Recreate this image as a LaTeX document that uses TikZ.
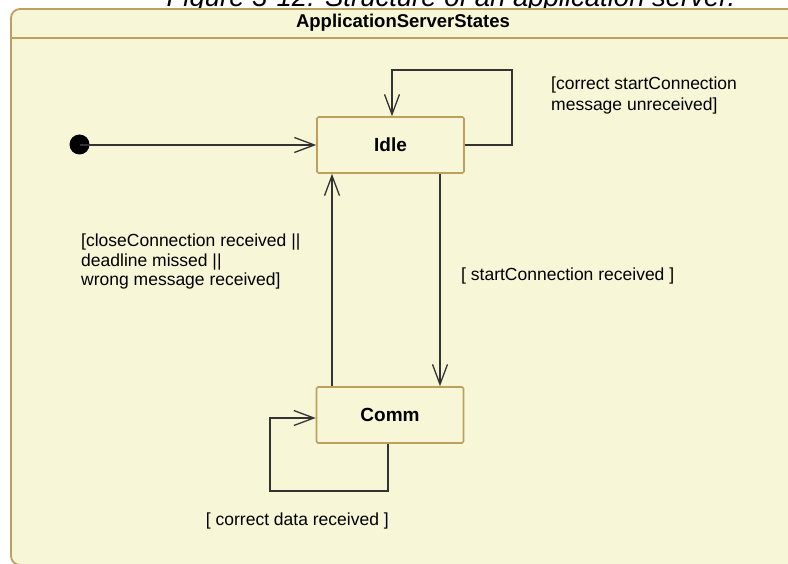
\documentclass[tikz,border=0pt]{standalone}
\usepackage{fontspec}
\setmainfont{Liberation Sans}
\usetikzlibrary{arrows.meta,calc}
\definecolor{paper}{HTML}{F7F7D8}
\definecolor{frame}{HTML}{BBA060}
\definecolor{wire}{HTML}{333333}
\tikzset{
  statebox/.style={draw=frame, line width=1.6pt, fill=paper, rounded corners=1.5pt,
    minimum width=147pt, minimum height=56pt, inner sep=0pt,
    font=\fontsize{19}{21}\selectfont\bfseries},
  trans/.style={draw=wire, line width=1.3pt,
    -{Straight Barb[length=20pt,width=15pt,line width=1.3pt]}},
  guard/.style={align=left, inner sep=0pt, text=black,
    font=\fontsize{17.5}{21}\selectfont},
}
\begin{document}
\begin{tikzpicture}[x=1pt,y=-1pt]
\useasboundingbox (0,0) rectangle (788,564);
\clip (0,0) rectangle (788,564);
\fill[white] (0,0) rectangle (788,564);
% caption line, partly cut off by the page top
\node[anchor=base, inner sep=0pt, font=\fontsize{27.5}{30}\selectfont\itshape] (caption)
  at (451,7) {Figure 3-12: Structure of an application server.};
% state machine frame
\draw[draw=frame, line width=1.8pt, fill=paper, rounded corners=9pt]
  (11,9) rectangle (800,565);
\draw[draw=frame, line width=1.8pt] (11,38) -- (800,38);
\node[font=\fontsize{18.5}{20}\selectfont\bfseries] (frametitle) at (403,23) {ApplicationServerStates};
% states
\node[statebox] (idle) at (390.5,145) {Idle};
\node[statebox] (comm) at (390,415) {Comm};
\fill[black] (79.5,144.5) circle (10);
\coordinate (init) at (79.5,145);
% helper coordinates for routing
\coordinate (loopA) at (512,70);
\coordinate (loopB) at (270,491);
\coordinate (rx) at (440,0);
\coordinate (lx) at (332,0);
\coordinate (bx) at (388,0);
% transitions
\draw[trans] (init) -- (idle.west);
\draw[trans] (idle.east) -| (loopA) -| ([xshift=1.5pt]idle.north);
\draw[trans] (idle.south -| rx) -- (comm.north -| rx);
\draw[trans] (comm.north -| lx) -- (idle.south -| lx);
\draw[trans] (comm.south -| bx) |- (loopB) |- ([yshift=-3pt]comm.west);
% guards
\node[guard, anchor=north west] (g1) at (551,77) {[correct startConnection\\message unreceived]};
\node[guard, anchor=base west] (g2) at (461,281) {[ startConnection received ]};
\node[guard, anchor=north west, font=\fontsize{17.5}{19.5}\selectfont] (g3) at (81,234) {[closeConnection received ||\\deadline missed ||\\wrong message received]};
\node[guard, anchor=base east] (g4) at (389,525) {[ correct data received ]};
\end{tikzpicture}
\end{document}
